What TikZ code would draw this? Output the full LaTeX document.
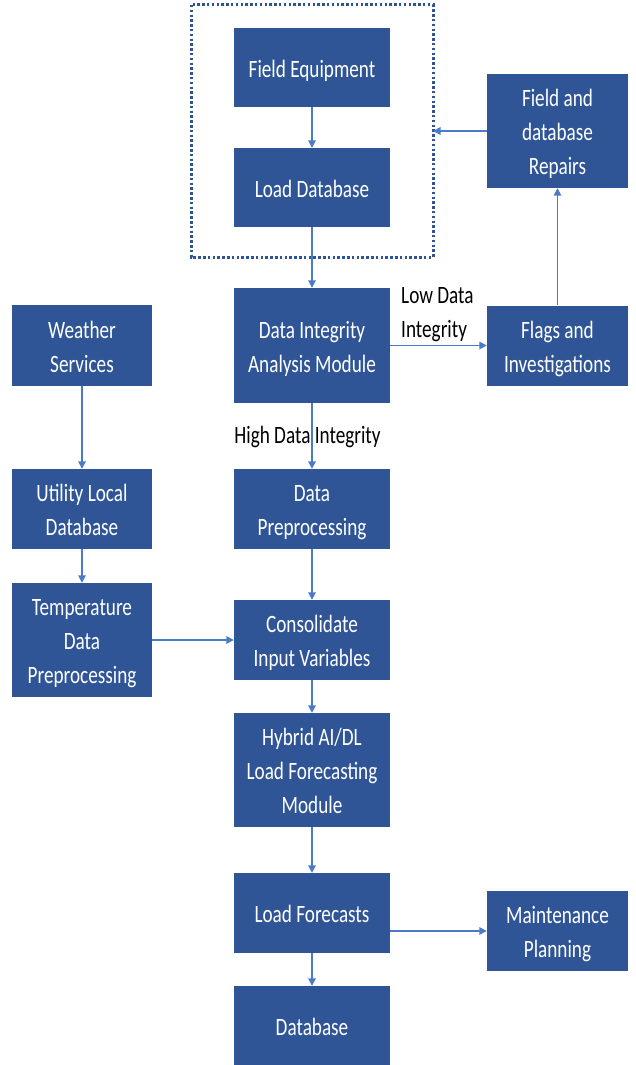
\documentclass[tikz,border=0pt]{standalone}
\usepackage{fontspec}
\setmainfont{Carlito}
\usepackage{graphicx}
\usetikzlibrary{arrows.meta}
\definecolor{boxblue}{HTML}{2F5597}
\definecolor{arrowblue}{HTML}{4A7BC8}
\newcommand{\tx}[1]{\raisebox{-3pt}[\dimexpr\height+3pt][\dimexpr\depth+3pt]{\scalebox{1}[1.3]{\begin{tabular}{@{}c@{}}#1\end{tabular}}}}
\newcommand{\txl}[1]{\scalebox{1}[1.3]{\begin{tabular}{@{}l@{}}#1\end{tabular}}}
\tikzset{
  blk/.style={draw=none, fill=boxblue, text=white, inner sep=0pt, align=center,
    font=\fontsize{19.2}{26}\selectfont},
  conn/.style={draw=arrowblue, line width=1.6pt, -{Triangle[width=7.5pt,length=7.5pt]}},
  lbl/.style={text=black, inner sep=0pt, font=\fontsize{19.2}{26}\selectfont},
  dotbox/.style={draw=boxblue, line width=3pt, dash pattern=on 2.5pt off 2.3pt}
}
\begin{document}
\begin{tikzpicture}[x=1pt,y=-1pt]
\useasboundingbox (0,0) rectangle (635,1065);
\node[blk, minimum width=156pt, minimum height=79pt] (fe) at (312,67.5) {\tx{Field Equipment}};
\node[blk, minimum width=156pt, minimum height=79pt] (ld) at (312,187.5) {\tx{Load Database}};
\draw[dotbox] (191,5) rectangle (433,257);
\coordinate (boxe) at (433,131);
\node[blk, minimum width=141pt, minimum height=114pt] (rep) at (557.5,131) {\tx{Field and\\database\\Repairs}};
\node[blk, minimum width=156pt, minimum height=115pt] (dia) at (312,345.5) {\tx{Data Integrity\\Analysis Module}};
\node[blk, minimum width=140pt, minimum height=81pt] (ws) at (82,345.5) {\tx{Weather\\Services}};
\node[blk, minimum width=141pt, minimum height=80pt] (fl) at (557.5,345.5) {\tx{Flags and\\Investigations}};
\node[blk, minimum width=156pt, minimum height=80pt] (dp) at (312,509) {\tx{Data\\Preprocessing}};
\node[blk, minimum width=140pt, minimum height=80pt] (uld) at (82,509) {\tx{Utility Local\\Database}};
\node[blk, minimum width=140pt, minimum height=114pt] (tdp) at (82,640) {\tx{Temperature\\Data\\Preprocessing}};
\node[blk, minimum width=156pt, minimum height=80pt] (ci) at (312,640) {\tx{Consolidate\\Input Variables}};
\node[blk, minimum width=156pt, minimum height=114pt] (hy) at (312,770) {\tx{Hybrid AI/DL\\Load Forecasting\\Module}};
\node[blk, minimum width=156pt, minimum height=80pt] (lf) at (312,913) {\tx{Load Forecasts}};
\node[blk, minimum width=141pt, minimum height=80pt] (mp) at (557.5,931) {\tx{Maintenance\\Planning}};
\node[blk, minimum width=156pt, minimum height=79pt] (db) at (312,1025.5) {\tx{Database}};

\node[lbl, anchor=west] (low) at (401,314) {\txl{Low Data\\Integrity}};
\node[lbl] (high) at (307.5,434) {\tx{High Data Integrity}};

\draw[conn] (fe) -- (ld);
\draw[conn] (ld) -- (dia);
\draw[conn] (rep.west) -- (boxe);
\draw[conn] (fl) -- (rep);
\draw[conn] (dia.east |- fl.west) -- (fl.west);
\draw[conn] (dia) -- (dp);
\draw[conn] (ws) -- (uld);
\draw[conn] (uld) -- (tdp);
\draw[conn] (dp) -- (ci);
\draw[conn] (tdp.east) -- (ci.west);
\draw[conn] (ci) -- (hy);
\draw[conn] (hy) -- (lf);
\draw[conn] (lf) -- (db);
\draw[conn] (lf.east |- mp.west) -- (mp.west);
\end{tikzpicture}
\end{document}
